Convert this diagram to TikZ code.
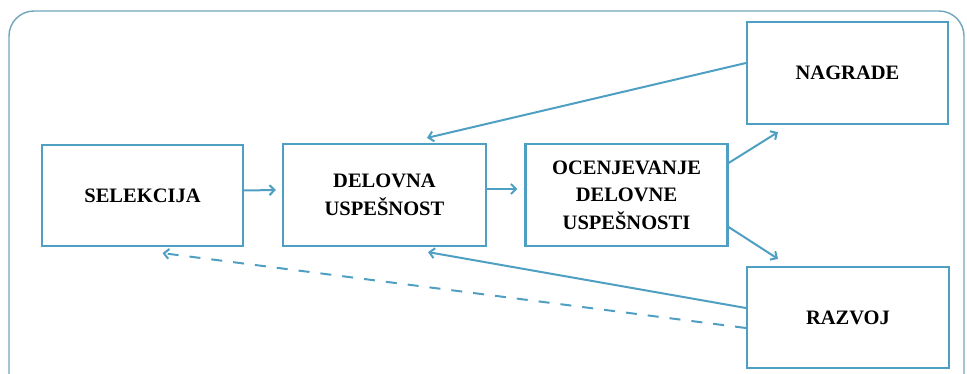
\documentclass[tikz,border=0pt]{standalone}
\usepackage{fontspec}
\setmainfont{Liberation Serif}
\usetikzlibrary{arrows.meta,calc}
\definecolor{boxblue}{HTML}{4E9FC2}
\definecolor{framecol}{HTML}{6FA6BA}
\begin{document}
\begin{tikzpicture}[x=1pt,y=-1pt,
  stage/.style={draw=boxblue,line width=2.2pt,minimum width=201pt,minimum height=101pt,
    align=center,font=\fontsize{20.5}{27.5}\selectfont\bfseries,inner sep=2pt},
  link/.style={draw=boxblue,line width=2pt,-{Straight Barb[length=5pt,width=10pt,line width=2pt]}},
  back/.style={link,dash pattern=on 11pt off 11pt}]
\useasboundingbox (0,0) rectangle (967,374);
\clip (0,0) rectangle (967,374);
% outer rounded frame, running past the lower edge
\draw[framecol,line width=1.4pt,rounded corners=25pt] (9,420) -- (9,11) -- (964,11) -- (964,420);

\node[stage] (sel) at (142.5,195.5) {SELEKCIJA};
\node[stage,minimum width=203pt,minimum height=102pt] (del) at (384.5,195) {DELOVNA\\USPEŠNOST};
\node[stage,minimum width=202pt,minimum height=102pt] (oce) at (626.5,195) {OCENJEVANJE\\DELOVNE\\USPEŠNOSTI};
\node[stage,minimum height=102pt] (nag) at (847.5,73) {NAGRADE};
\node[stage,minimum width=202pt] (raz) at (848,317.5) {RAZVOJ};

\draw[link] ($(sel.east)+(0,-5)$) -- ($(del.west)+(-6,-5)$);
\draw[link] ($(del.east)+(0,-6)$) -- ($(oce.west)+(-7,-6)$);
\draw[link] ($(nag.west)+(0,-10)$) -- ($(del.north)+(42.5,-5)$);
\draw[link] ($(raz.west)+(0,-9.5)$) -- ($(del.south)+(43.5,5)$);
\draw[back] ($(raz.west)+(0,10.5)$) -- ($(sel.south)+(20,6)$);
\draw[link] ($(oce.east)+(0,-32)$) -- ($(nag.south)+(-69.5,7)$);
\draw[link] ($(oce.east)+(0,32)$) -- ($(raz.north)+(-70,-7)$);
\end{tikzpicture}
\end{document}
